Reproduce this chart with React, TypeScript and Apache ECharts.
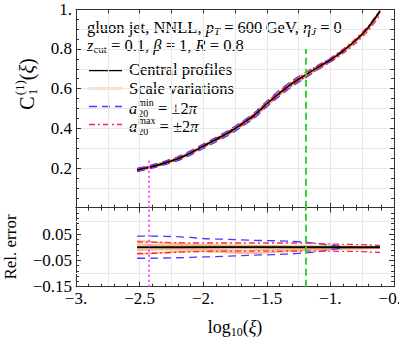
import React, { useEffect, useRef } from "react";
import * as echarts from "echarts";

// ---- data ----
const xs = [-2.52, -2.4, -2.3, -2.2, -2.1, -2.0, -1.9, -1.8, -1.7, -1.6, -1.5, -1.4, -1.3, -1.2, -1.1, -1.0, -0.9, -0.8, -0.7, -0.61];
const central = [0.19, 0.208, 0.226, 0.247, 0.276, 0.31, 0.344, 0.379, 0.42, 0.465, 0.524, 0.578, 0.627, 0.667, 0.707, 0.745, 0.791, 0.844, 0.91, 0.99];
const centralRel = [0, 0, 0, 0, 0, 0, 0, 0, 0, 0, 0, 0, 0, 0, 0, 0, 0, 0, 0, 0];
const a20minUp = [0.042, 0.042, 0.041, 0.04, 0.037, 0.033, 0.031, 0.03, 0.028, 0.026, 0.025, 0.024, 0.022, 0.019, 0.014, 0.008, 0.002];
const a20minDn = [-0.042, -0.042, -0.041, -0.04, -0.039, -0.037, -0.036, -0.034, -0.032, -0.03, -0.029, -0.027, -0.025, -0.022, -0.017, -0.01, -0.003];
const a20maxUp = [0.02, 0.019, 0.018, 0.017, 0.016, 0.016, 0.016, 0.016, 0.016, 0.016, 0.016, 0.016, 0.016, 0.016, 0.014, 0.012, 0.011, 0.01, 0.009, 0.006];
const a20maxDn = [-0.024, -0.023, -0.021, -0.019, -0.017, -0.016, -0.015, -0.015, -0.015, -0.015, -0.015, -0.015, -0.015, -0.015, -0.015, -0.015, -0.016, -0.016, -0.018, -0.02];
const scaleVar1 = [0.024, 0.02, 0.016, 0.013, 0.01, 0.008, 0.007, 0.006, 0.006, 0.005, 0.005, 0.005, 0.004, 0.004, 0.004, 0.003, 0.003, 0.002, 0.002, 0.001];
const scaleVar2 = [0.01, 0.008, 0.007, 0.006, 0.005, 0.004, 0.004, 0.003, 0.003, 0.003, 0.003, 0.002, 0.002, 0.002, 0.002, 0.002, 0.001, 0.001, 0.001, 0.001];
const scaleVar3 = [-0.01, -0.009, -0.008, -0.008, -0.008, -0.009, -0.01, -0.012, -0.013, -0.012, -0.01, -0.009, -0.008, -0.007, -0.006, -0.005, -0.004, -0.004, -0.003, -0.002];
const scaleVar4 = [-0.026, -0.023, -0.02, -0.017, -0.015, -0.015, -0.017, -0.02, -0.022, -0.022, -0.02, -0.017, -0.014, -0.011, -0.009, -0.007, -0.006, -0.005, -0.004, -0.003];
const scaleVars = [scaleVar1, scaleVar2, scaleVar3, scaleVar4];
const greenX = -1.19;
const greenTop = 0.8;
const magentaX = -2.43;
const magentaTop = 0.25;
const relGridLines = [0.1, -0.1];

// ---- style ----
const FONT = "Liberation Serif, serif";
const FRAME = "#333";
const GRID = "#e8e8e8";
const ORANGE = "rgba(247,160,80,0.7)";
const BLUE = "#3f3fff";
const RED = "#ff1f5a";
const GREEN = "#33d633";
const MAGENTA = "#ff4dff";
const BLUE_DASH = [8, 5];
const RED_DASH = [6, 3, 2, 3];

const minus = (s: string) => s.replace("-", "\u2212");
const fmtX = (v: number) => {
  const r = Math.round(v * 100) / 100;
  if (Math.abs(r - Math.round(r)) < 1e-9) return minus(`${Math.round(r)}.`);
  return minus(r.toFixed(1));
};
const fmtTop = (v: number) => (Math.abs(v - 1) < 1e-9 ? "1." : v.toFixed(1));
const fmtRel = (v: number) => minus(v.toFixed(2));

let _ctx: CanvasRenderingContext2D | null = null;
function tw(t: string, size: number, italic?: boolean) {
  if (!_ctx) _ctx = document.createElement("canvas").getContext("2d");
  _ctx!.font = `${italic ? "italic " : ""}${size}px "Liberation Serif"`;
  return _ctx!.measureText(t).width;
}
type Part = { t: string; s: number; i?: boolean; dy?: number; stack?: boolean; gap?: number };
function seq(x0: number, y: number, parts: Part[], center = false): any[] {
  let x = 0;
  let pending = 0;
  const pos: { p: Part; x: number }[] = [];
  for (const p of parts) {
    const w = tw(p.t, p.s, p.i);
    const g = p.gap || 0;
    pos.push({ p, x: x + g });
    if (p.stack) pending = Math.max(pending, w);
    else {
      x += g + Math.max(w, pending);
      pending = 0;
    }
  }
  const start = center ? x0 - x / 2 : x0;
  return pos.map(({ p, x: px }) => ({
    type: "text",
    x: start + px,
    y: y + (p.dy || 0),
    silent: true,
    style: {
      text: p.t,
      fontSize: p.s,
      fontFamily: FONT,
      fontStyle: p.i ? "italic" : "normal",
      fill: "#000",
      align: "left",
      verticalAlign: "middle",
    },
  }));
}

const pts = (vals: number[]) => vals.map((v, i) => [xs[i], v]);
const onCentral = (rel: number[]) => rel.map((r, i) => [xs[i], central[i] * (1 + r)]);

function ln(xi: number, yi: number, data: any[], color: string, width: number, type: any, z = 2): any {
  return {
    type: "line",
    xAxisIndex: xi,
    yAxisIndex: yi,
    data,
    symbol: "none",
    showSymbol: false,
    smooth: 0.2,
    silent: true,
    z,
    lineStyle: { color, width, type },
  };
}

const axisBase = (extra: any) => ({
  type: "value",
  axisLine: { show: true, onZero: false, lineStyle: { color: FRAME, width: 1 } },
  axisTick: { show: true, inside: true, length: 5, lineStyle: { color: FRAME } },
  minorTick: { show: false },
  axisLabel: { show: false },
  splitLine: { show: false },
  ...extra,
});

export default function App() {
  const ref = useRef<HTMLDivElement>(null);
  useEffect(() => {
    if (!ref.current) return;
    const chart = echarts.init(ref.current, null, { renderer: "svg" });
    const xRange = { min: -3, max: -0.5 };
    const labelStyle = { show: true, fontFamily: FONT, fontSize: 17, color: "#000" };

    const vLine = (x: number, y0: number, y1: number, color: string, dash: any) => [
      { coord: [x, y0], lineStyle: { color, width: 2, type: dash } },
      { coord: [x, y1] },
    ];

    const graphic: any[] = [
      ...seq(87, 27.2, [
        { t: "gluon jet, NNLL, ", s: 16.5 },
        { t: "p", s: 16.5, i: true },
        { t: "T", s: 11, i: true, dy: 4 },
        { t: " = 600\u2009GeV, ", s: 16.5 },
        { t: "\u03b7", s: 16.5, i: true },
        { t: "J", s: 11, i: true, dy: 4 },
        { t: " = 0", s: 16.5 },
      ]),
      ...seq(87, 45.4, [
        { t: "z", s: 16.5, i: true },
        { t: "cut", s: 11, dy: 4 },
        { t: " = 0.1, ", s: 16.5 },
        { t: "\u03b2", s: 16.5, i: true },
        { t: " = 1, ", s: 16.5 },
        { t: "R", s: 16.5, i: true },
        { t: " = 0.8", s: 16.5 },
      ]),
      { type: "line", silent: true, shape: { x1: 89, y1: 70.5, x2: 122, y2: 70.5 }, style: { stroke: "#000", lineWidth: 1.6 } },
      { type: "line", silent: true, shape: { x1: 89, y1: 88.5, x2: 122, y2: 88.5 }, style: { stroke: ORANGE, lineWidth: 2 } },
      { type: "line", silent: true, shape: { x1: 89, y1: 106.5, x2: 122, y2: 106.5 }, style: { stroke: BLUE, lineWidth: 1.3, lineDash: BLUE_DASH } },
      { type: "line", silent: true, shape: { x1: 89, y1: 124.5, x2: 122, y2: 124.5 }, style: { stroke: RED, lineWidth: 1.3, lineDash: RED_DASH } },
      ...seq(129, 69.7, [{ t: "Central profiles", s: 16.5 }]),
      ...seq(129, 88, [{ t: "Scale variations", s: 16.5 }]),
      ...seq(129, 108, [
        { t: "a", s: 16.5, i: true },
        { t: "min", s: 10, dy: -5.5, stack: true, gap: 1 },
        { t: "20", s: 10, dy: 5, gap: 1 },
        { t: " = \u00b12", s: 16.5 },
        { t: "\u03c0", s: 16.5, i: true },
      ]),
      ...seq(129, 126, [
        { t: "a", s: 16.5, i: true },
        { t: "max", s: 10, dy: -5.5, stack: true, gap: 1 },
        { t: "20", s: 10, dy: 5, gap: 1 },
        { t: " = \u00b12", s: 16.5 },
        { t: "\u03c0", s: 16.5, i: true },
      ]),
      {
        type: "group",
        x: 27,
        y: 84,
        rotation: Math.PI / 2,
        children: seq(0, 0, [
          { t: "C", s: 20 },
          { t: "(1)", s: 13, dy: -8, stack: true, gap: 1 },
          { t: "1", s: 13, dy: 5, gap: 1 },
          { t: "(", s: 20 },
          { t: "\u03be", s: 20, i: true },
          { t: ")", s: 20 },
        ], true),
      },
      {
        type: "group",
        x: 10,
        y: 247,
        rotation: Math.PI / 2,
        children: seq(0, 0, [{ t: "Rel. error", s: 17 }], true),
      },
      ...seq(235, 327, [
        { t: "log", s: 18 },
        { t: "10", s: 12, dy: 5 },
        { t: "(", s: 18 },
        { t: "\u03be", s: 18, i: true },
        { t: ")", s: 18 },
      ], true),
    ];

    const series: any[] = [
      // top panel
      ...scaleVars.map((s) => ln(0, 0, onCentral(s), ORANGE, 2, "solid")),
      ln(0, 0, onCentral(a20minUp), BLUE, 1.3, BLUE_DASH),
      ln(0, 0, onCentral(a20minDn), BLUE, 1.3, BLUE_DASH),
      ln(0, 0, onCentral(a20maxUp), RED, 1.3, RED_DASH),
      ln(0, 0, onCentral(a20maxDn), RED, 1.3, RED_DASH),
      {
        ...ln(0, 0, pts(central), "#000", 1.6, "solid", 3),
        markLine: {
          silent: true,
          symbol: "none",
          label: { show: false },
          animation: false,
          data: [vLine(greenX, 0, greenTop, GREEN, [7, 4]), vLine(magentaX, 0, magentaTop, MAGENTA, [2, 3])],
        },
      },
      // bottom panel
      {
        ...ln(2, 2, pts(centralRel), "rgba(0,0,0,0)", 0, "solid", 1),
        markLine: {
          silent: true,
          symbol: "none",
          label: { show: false },
          animation: false,
          lineStyle: { color: GRID, width: 1, type: "solid" },
          data: relGridLines.map((v) => ({ yAxis: v })),
        },
      },
      ...scaleVars.map((s) => ln(2, 2, pts(s), ORANGE, 2, "solid")),
      ln(2, 2, pts(a20minUp), BLUE, 1.3, BLUE_DASH),
      ln(2, 2, pts(a20minDn), BLUE, 1.3, BLUE_DASH),
      ln(2, 2, pts(a20maxUp), RED, 1.3, RED_DASH),
      ln(2, 2, pts(a20maxDn), RED, 1.3, RED_DASH),
      {
        ...ln(2, 2, pts(centralRel), "#000", 2, "solid", 3),
        markLine: {
          silent: true,
          symbol: "none",
          label: { show: false },
          animation: false,
          data: [vLine(greenX, -0.15, 0.15, GREEN, [7, 4]), vLine(magentaX, -0.15, 0.15, MAGENTA, [2, 3])],
        },
      },
    ];

    chart.setOption({
      animation: false,
      grid: [
        { left: 76, right: 5, top: 9.3, height: 198.4, containLabel: false, outerBoundsMode: "none" },
        { left: 76, right: 5, top: 207.7, height: 79, containLabel: false, outerBoundsMode: "none" },
      ],
      xAxis: [
        axisBase({ gridIndex: 0, position: "bottom", ...xRange, interval: 0.5, minorTick: { show: true, splitNumber: 5, length: 3, lineStyle: { color: FRAME } } }),
        axisBase({ gridIndex: 0, position: "top", ...xRange, interval: 0.25, axisTick: { show: true, inside: true, length: 4, lineStyle: { color: FRAME } }, splitLine: { show: true, lineStyle: { color: GRID, width: 1 } } }),
        axisBase({ gridIndex: 1, position: "bottom", ...xRange, interval: 0.5, minorTick: { show: true, splitNumber: 5, length: 3, lineStyle: { color: FRAME } }, axisLabel: { ...labelStyle, margin: 3, formatter: fmtX, showMinLabel: true, showMaxLabel: true } }),
        axisBase({ gridIndex: 1, position: "top", ...xRange, interval: 0.5, minorTick: { show: true, splitNumber: 5, length: 3, lineStyle: { color: FRAME } } }),
        axisBase({ gridIndex: 1, position: "bottom", ...xRange, interval: 0.25, axisLine: { show: false, onZero: false }, axisTick: { show: false }, splitLine: { show: true, lineStyle: { color: GRID, width: 1 } } }),
      ],
      yAxis: [
        axisBase({ gridIndex: 0, position: "left", min: 0, max: 1, interval: 0.2, minorTick: { show: true, splitNumber: 4, length: 3, lineStyle: { color: FRAME } }, axisLabel: { ...labelStyle, margin: 4, formatter: fmtTop, showMinLabel: false, showMaxLabel: true } }),
        axisBase({ gridIndex: 0, position: "right", min: 0, max: 1, interval: 0.1, axisTick: { show: true, inside: true, length: 4, lineStyle: { color: FRAME } }, minorTick: { show: true, splitNumber: 2, length: 3, lineStyle: { color: FRAME } }, splitLine: { show: true, lineStyle: { color: GRID, width: 1 } } }),
        axisBase({ gridIndex: 1, position: "left", min: -0.15, max: 0.15, interval: 0.1, minorTick: { show: true, splitNumber: 5, length: 3, lineStyle: { color: FRAME } }, axisLabel: { ...labelStyle, margin: 4, formatter: fmtRel, showMinLabel: true, showMaxLabel: false } }),
        axisBase({ gridIndex: 1, position: "right", min: -0.15, max: 0.15, interval: 0.1, minorTick: { show: true, splitNumber: 5, length: 3, lineStyle: { color: FRAME } } }),
      ],
      series,
      graphic,
    });
    return () => chart.dispose();
  }, []);
  return <div ref={ref} style={{ position: "fixed", left: 0, top: 0, width: 399, height: 346, background: "#fff" }} />;
}
